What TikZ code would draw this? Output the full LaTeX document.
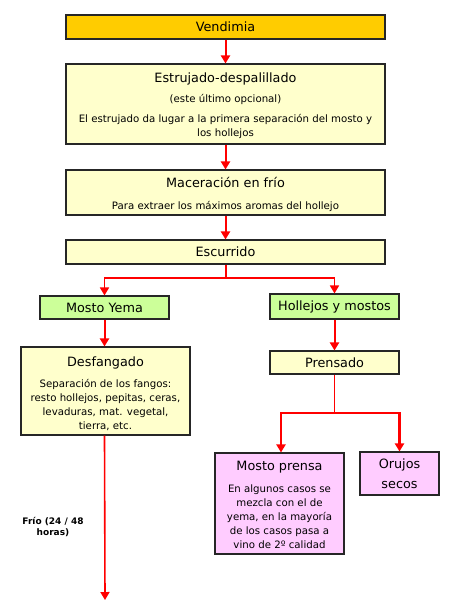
\documentclass[tikz,border=0pt]{standalone}
\usepackage{fontspec}
\setmainfont{DejaVu Sans}
\usetikzlibrary{arrows.meta}
\definecolor{gold}{HTML}{FFCC00}
\definecolor{cream}{HTML}{FFFFCC}
\definecolor{lgreen}{HTML}{CCFF99}
\definecolor{lpink}{HTML}{FFCCFF}
\tikzset{
  x=1pt, y=-1pt,
  box/.style={draw=black!85, line width=1.1pt, inner sep=0pt, align=center,
    font=\fontsize{12.8}{14}\selectfont},
  redline/.style={draw=red, line width=2pt},
  flow/.style={redline, -{Triangle[width=9pt,length=8pt]}}
}
\newcommand{\smtxt}{\fontsize{10.2}{14}\selectfont}
\newcommand{\up}[1]{\rule{0pt}{#1}}
\begin{document}
\begin{tikzpicture}
\useasboundingbox (0,0) rectangle (450,600);
\node[box, fill=gold, minimum width=319pt, minimum height=24pt] (vend) at (225.5,27) {Vendimia};
\node[box, fill=cream, minimum width=319pt, minimum height=80pt] (estr) at (225.5,104)
  {\up{13.5pt}Estrujado-despalillado\\[6pt]{\smtxt (este último opcional)}\\[6pt]{\smtxt El estrujado da lugar a la primera separación del mosto y}\\{\smtxt los hollejos}};
\node[box, fill=cream, minimum width=319pt, minimum height=45pt] (mac) at (225.5,192.5)
  {\up{13.5pt}Maceración en frío\\[8pt]{\smtxt Para extraer los máximos aromas del hollejo}};
\node[box, fill=cream, minimum width=319pt, minimum height=24pt] (esc) at (225.5,252) {Escurrido};
\node[box, fill=lgreen, minimum width=129pt, minimum height=23pt] (yema) at (104.5,307.5) {Mosto Yema};
\node[box, fill=lgreen, minimum width=129pt, minimum height=25pt] (holl) at (334.5,306.5) {Hollejos y mostos};
\node[box, fill=cream, minimum width=169pt, minimum height=88pt] (desf) at (105.5,391)
  {\up{14.5pt}Desfangado\\[7pt]{\smtxt Separación de los fangos:}\\{\smtxt resto hollejos, pepitas, ceras,}\\{\smtxt levaduras, mat. vegetal,}\\{\smtxt tierra, etc.}};
\node[box, fill=cream, minimum width=129pt, minimum height=23pt] (pren) at (334.5,362.5) {Prensado};
\node[box, fill=lpink, minimum width=129pt, minimum height=101pt] (mpren) at (279.5,503.5)
  {\up{11.5pt}Mosto prensa\\[8pt]{\smtxt En algunos casos se}\\{\smtxt mezcla con el de}\\{\smtxt yema, en la mayoría}\\{\smtxt de los casos pasa a}\\{\smtxt vino de 2º calidad}};
\node[box, fill=lpink, minimum width=79pt, minimum height=43pt, font=\fontsize{12.8}{20}\selectfont] (oruj) at (399.5,473.5) {\up{11pt}Orujos\\secos};
\node[font=\bfseries\fontsize{9}{11}\selectfont, align=center] (frio) at (53,527) {Frío (24 / 48\\horas)};
\coordinate (fin) at (105,600);
\coordinate (split1) at (225.5,278);
\coordinate (split2) at (334.5,413);
\draw[flow] (vend) -- (estr);
\draw[flow] (estr) -- (mac);
\draw[flow] (mac) -- (esc);
\draw[redline] (esc.south) -- (split1);
\draw[flow, line width=1.6pt] (split1) -| (yema.north);
\draw[flow, line width=1.6pt] (split1) -| (holl.north);
\draw[flow] (yema.south) -- (yema.south |- desf.north);
\draw[flow] (holl) -- (pren);
\draw[redline, line width=1.6pt] (pren.south) -- (split2);
\draw[flow, line width=2.6pt] (split2) -| ([xshift=1.5pt]mpren.north);
\draw[flow, line width=2.6pt] (split2) -| (oruj.north);
\draw[flow, line width=1.6pt] (desf.south -| yema.south) -- (fin);
\end{tikzpicture}
\end{document}
